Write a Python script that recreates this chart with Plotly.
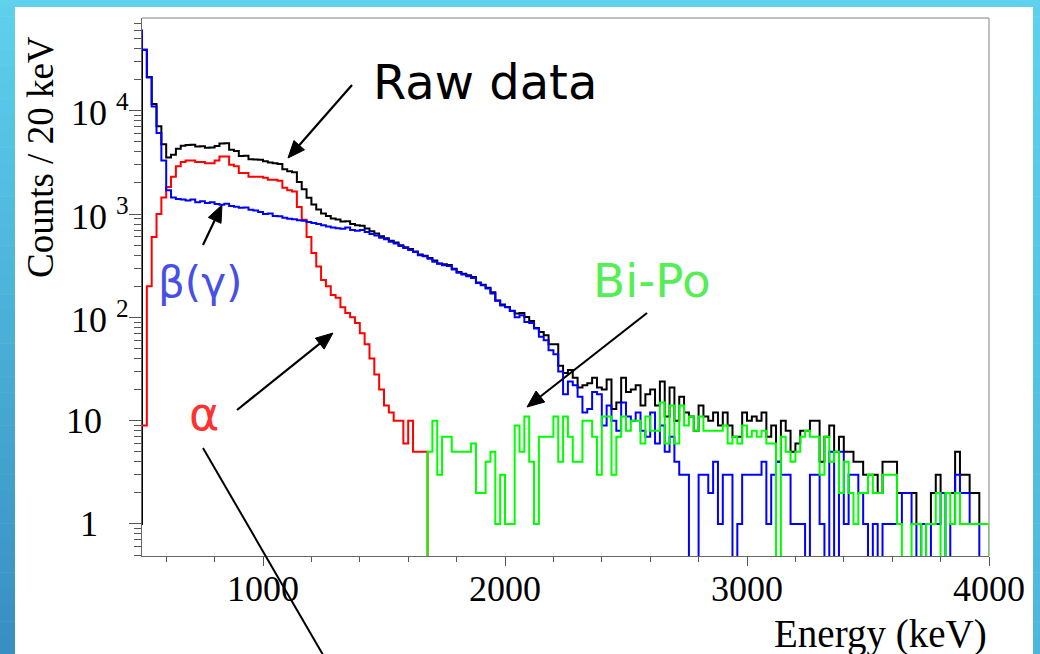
import math
import plotly.graph_objects as go

# ---------------- data (counts per 20 keV bin) -------------
bin_low_kev = list(range(480, 4000, 20))   # lower edge of each 20 keV bin
bin_high_last = 4000

raw_counts = [
    1, 39000, 21200, 11600, 7100, 4750, 3530, 3750, 4300, 4580,
    4650, 4680, 4500, 4530, 4380, 4400, 4550, 4830, 4860, 4200,
    4080, 3650, 3660, 3400, 3380, 3350, 3250, 3160, 3110, 3050,
    2720, 2600, 2540, 2040, 1740, 1440, 1240, 1110, 1010, 960,
    905, 885, 845, 850, 800, 778, 770, 725, 680, 648,
    610, 584, 552, 530, 500, 476, 460, 435, 405, 395,
    375, 355, 333, 327, 322, 295, 275, 265, 255, 246,
    217, 207, 194, 175, 146, 133, 126, 116, 109, 110,
    101, 92, 79, 72, 67, 55, 55, 34, 29, 31,
    26, 21, 22, 23, 26, 21, 20, 25, 13, 15,
    26, 19, 20, 22, 14, 18, 20, 14, 24, 11,
    21, 10, 17, 12, 11, 8, 14, 11, 10, 12,
    9, 12, 9, 7, 7, 12, 10, 11, 10, 12,
    7, 9, 4, 10, 8, 5, 6, 8, 8, 10,
    10, 4, 7, 9, 5, 7, 5, 5, 4, 4,
    3, 3, 3, 2, 4, 4, 4, 2, 2, 2,
    2, 1, 1, 1, 2, 3, 2, 2, 2, 5,
    3, 3, 2, 2, 1, 1,
]

alpha_counts = [
    9, 9, 200, 600, 1000, 1450, 1830, 2300, 2900, 3200,
    3300, 3300, 3200, 3200, 3100, 3100, 3300, 3600, 3600, 3000,
    2900, 2500, 2500, 2300, 2300, 2300, 2250, 2150, 2150, 2100,
    1800, 1700, 1650, 1170, 880, 600, 420, 310, 230, 200,
    165, 155, 125, 110, 100, 88, 70, 55, 40, 28,
    20, 14, 12, 10, 10, 6, 10, 5, 5, 5,
] + [0] * 116

beta_counts = [
    60000, 39000, 21000, 11000, 6100, 3300, 1700, 1450, 1400, 1380,
    1350, 1380, 1300, 1330, 1280, 1300, 1250, 1230, 1260, 1200,
    1180, 1150, 1160, 1100, 1080, 1050, 1000, 1010, 960, 950,
    920, 900, 890, 870, 860, 840, 820, 800, 780, 760,
    740, 730, 720, 740, 700, 690, 700, 670, 640, 620,
    590, 570, 540, 520, 490, 470, 450, 430, 400, 390,
    370, 345, 330, 320, 315, 290, 270, 260, 250, 240,
    215, 205, 190, 170, 145, 130, 125, 115, 100, 105,
    90, 88, 78, 65, 60, 48, 44, 30, 18, 24,
    22, 17, 12, 13, 19, 18, 9, 14, 10, 8,
    15, 11, 10, 12, 8, 7, 12, 6, 9, 5,
    7, 4, 3, 3, 0, 0, 3, 3, 2, 4,
    1, 3, 3, 0, 1, 3, 3, 3, 3, 4,
    1, 3, 4, 3, 3, 1, 1, 1, 0, 3,
    3, 1, 0, 5, 0, 5, 1, 3, 3, 2,
    1, 0, 1, 0, 1, 1, 1, 1, 2, 2,
    1, 0, 1, 0, 1, 1, 2, 0, 1, 3,
    2, 2, 1, 1, 0, 0,
]

bipo_counts = [0] * 60 + [
    5, 10, 3, 7, 7, 5, 5, 5, 5, 6,
    2, 2, 4, 5, 1, 3, 1, 1, 9, 5,
    11, 4, 1, 7, 7, 7, 11, 4, 11, 7,
    4, 4, 10, 10, 7, 3, 11, 11, 3, 7,
    11, 8, 10, 10, 6, 11, 8, 8, 15, 6,
    14, 6, 14, 9, 11, 8, 11, 8, 8, 8,
    8, 9, 6, 7, 6, 9, 7, 8, 7, 8,
    6, 6, 0, 7, 5, 4, 5, 7, 8, 7,
    7, 3, 7, 4, 5, 2, 4, 2, 1, 2,
    2, 3, 2, 2, 3, 3, 3, 1, 0, 0,
    1, 1, 0, 1, 1, 2, 0, 2, 1, 2,
    1, 1, 1, 1, 1, 1,
]

x_ticks = [1000, 2000, 3000, 4000]
y_decades = [1, 10, 100, 1000, 10000]
y_labels = ["1", "10", "10 <sup>2</sup>", "10 <sup>3</sup>", "10 <sup>4</sup>"]

# ---------------- geometry -------------
W, H = 1040, 654
L, R, T, B = 142, 51, 18, 98
PW, PH = W - L - R, H - T - B
FLOOR = 0.05  # empty bins drop below the frame, as ROOT draws them


def px(x):
    return (x - L) / PW


def py(y):
    return (H - B - y) / PH


def step_xy(counts):
    xs = bin_low_kev + [bin_high_last, bin_high_last]
    ys = [c if c > 0 else FLOOR for c in counts]
    ys = ys + [ys[-1], FLOOR]
    return xs, ys


fig = go.Figure()
for counts, color in [(raw_counts, "#000000"), (alpha_counts, "#ff0000"),
                      (beta_counts, "#0000ff"), (bipo_counts, "#00ff00")]:
    xs, ys = step_xy(counts)
    fig.add_trace(go.Scatter(x=xs, y=ys, mode="lines", line=dict(color=color, width=2, shape="hv"),
                             showlegend=False, hoverinfo="skip"))

minor_x = [v for v in range(600, 4000, 200) if v not in x_ticks]
minor_y = [m * 10 ** k for k in range(-1, 5) for m in range(2, 10)]
minor_y = [v for v in minor_y if 0.45 < v < 85000]

serif = "Liberation Serif"
fig.update_layout(
    width=W, height=H, margin=dict(l=L, r=R, t=T, b=B),
    paper_bgcolor="white", plot_bgcolor="white", showlegend=False,
    xaxis=dict(range=[500, 4000], tickvals=x_ticks, ticks="outside", ticklen=9, tickwidth=1,
               tickcolor="#555", showline=True, linecolor="#666", linewidth=1.2, showgrid=False,
               zeroline=False, tickfont=dict(family=serif, size=36, color="black"),
               ticklabelstandoff=-8,
               minor=dict(tickvals=minor_x, ticks="outside", ticklen=5, tickcolor="#555", showgrid=False)),
    yaxis=dict(type="log", range=[-0.31, 4.898], tickvals=y_decades, ticks="outside", ticklen=12,
               tickwidth=1, tickcolor="#555", showline=True, linecolor="#666", linewidth=1.2,
               showgrid=False, zeroline=False, showticklabels=False,
               minor=dict(tickvals=minor_y, ticks="outside", ticklen=7, tickcolor="#555", showgrid=False)),
)

shapes = []
# slide frame: gradient strips
N = 40
c_top = (94, 208, 236)
c_bot = (56, 143, 194)
for i in range(N):
    f = i / (N - 1)
    col = tuple(round(c_top[j] + (c_bot[j] - c_top[j]) * f) for j in range(3))
    y0 = H * i / N
    y1 = H * (i + 1) / N + 0.5
    shapes.append(dict(type="rect", xref="paper", yref="paper", x0=px(-1), x1=px(15),
                       y0=py(y1), y1=py(y0), line=dict(width=0), fillcolor="rgb(%d,%d,%d)" % col, layer="below"))
    col2 = tuple(round(c_top[j] + (c_bot[j] - c_top[j]) * f * 0.4) for j in range(3))
    shapes.append(dict(type="rect", xref="paper", yref="paper", x0=px(1033), x1=px(1041),
                       y0=py(y1), y1=py(y0), line=dict(width=0), fillcolor="rgb(%d,%d,%d)" % col2, layer="below"))
shapes.append(dict(type="rect", xref="paper", yref="paper", x0=px(-1), x1=px(1041), y0=py(7), y1=py(-1),
                   line=dict(width=0), fillcolor="rgb(97,210,238)", layer="below"))
# light grey top/right frame
shapes.append(dict(type="line", xref="paper", yref="paper", x0=0, x1=1, y0=1, y1=1,
                   line=dict(color="#aaaaaa", width=1.5)))
shapes.append(dict(type="line", xref="paper", yref="paper", x0=1, x1=1, y0=0, y1=1,
                   line=dict(color="#aaaaaa", width=1.5)))
# long pointer line from alpha running off the bottom
shapes.append(dict(type="line", xref="paper", yref="paper", x0=px(203), y0=py(448), x1=px(326), y1=py(660),
                   line=dict(color="black", width=2)))


def arrow(head, tail, hl=17, hw=7):
    hx, hy = head
    tx, ty = tail
    d = math.hypot(hx - tx, hy - ty)
    ux, uy = (hx - tx) / d, (hy - ty) / d
    bx, by = hx - ux * hl, hy - uy * hl
    nx, ny = -uy, ux
    out = [dict(type="line", xref="paper", yref="paper", x0=px(tx), y0=py(ty), x1=px(bx + ux * 2), y1=py(by + uy * 2),
                line=dict(color="black", width=2.2))]
    pts = [(hx, hy), (bx + nx * hw, by + ny * hw), (bx - nx * hw, by - ny * hw)]
    path = "M " + " L ".join("%.5f %.5f" % (px(a), py(b)) for a, b in pts) + " Z"
    out.append(dict(type="path", xref="paper", yref="paper", path=path, fillcolor="black",
                    line=dict(color="black", width=1)))
    return out


for head, tail in [((288, 158), (352, 85)), ((222, 205), (203, 245)),
                   ((333, 333), (237, 410)), ((527, 407), (647, 313))]:
    shapes.extend(arrow(head, tail))

ann = []
# y tick labels (ROOT style)
for k, (lab, xr) in enumerate(zip(y_labels, [100, 104, 131, 131, 131])):
    ann.append(dict(x=px(xr), y=k, xref="paper", yref="y", text=lab,
                    showarrow=False, xanchor="right", yanchor="middle",
                    font=dict(family=serif, size=36, color="black")))
ann.append(dict(x=px(40), y=py(157), xref="paper", yref="paper", text="Counts / 20 keV", textangle=-90,
                showarrow=False, xanchor="center", yanchor="middle", font=dict(family=serif, size=37, color="black")))
ann.append(dict(x=px(989), y=py(634), xref="paper", yref="paper", text="Energy (keV)",
                showarrow=False, xanchor="right", yanchor="middle", font=dict(family=serif, size=39, color="black")))

sans = "DejaVu Sans"
for text, cx, cy, size, color in [("Raw data", 485, 82, 48, "black"),
                                  ("β(γ)", 200, 282, 42, "#4650e6"),
                                  ("α", 204, 414, 46, "#ff3030"),
                                  ("Bi-Po", 652, 280, 47, "#55ee55")]:
    ann.append(dict(x=px(cx), y=py(cy), xref="paper", yref="paper", text=text, showarrow=False,
                    xanchor="center", yanchor="middle", font=dict(family=sans, size=size, color=color)))

fig.update_layout(shapes=shapes, annotations=ann)
fig.write_html("out.html", config={"displayModeBar": False},
               post_script="document.body.style.margin='0';document.body.style.padding='0';"
                           "document.body.style.overflow='hidden';")
